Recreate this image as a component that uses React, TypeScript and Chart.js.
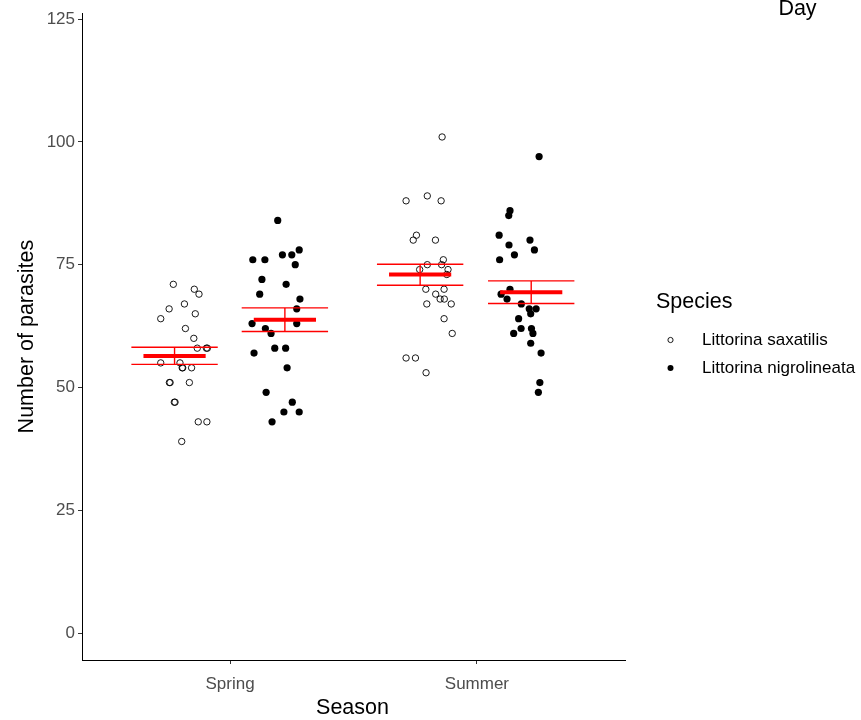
import React, { useEffect, useRef } from "react";
import { Chart, registerables } from "chart.js";

Chart.register(...registerables);

const seasons = ["Spring", "Summer"];
const species = ["Littorina saxatilis", "Littorina nigrolineata"];
const yTicks = [0, 25, 50, 75, 100, 125];

// Number of parasites per snail (jittered x positions)
const springSaxatilis = [71, 70, 69, 67, 66, 65, 64, 62, 60, 58, 58, 58, 55, 55, 54, 54, 54, 51, 51, 51, 47, 47, 43, 43, 39];
const springSaxatilisX = [0.770, 0.855, 0.874, 0.815, 0.753, 0.859, 0.719, 0.819, 0.853, 0.867, 0.904, 0.908, 0.719, 0.797, 0.806, 0.808, 0.844, 0.754, 0.757, 0.835, 0.774, 0.777, 0.871, 0.906, 0.804];

const springNigrolineata = [84, 78, 76, 76, 77, 77, 75, 72, 71, 69, 68, 66, 63, 63, 62, 61, 57, 58, 58, 54, 49, 47, 45, 45, 43];
const springNigrolineataX = [1.193, 1.280, 1.092, 1.141, 1.212, 1.250, 1.264, 1.129, 1.227, 1.120, 1.283, 1.270, 1.089, 1.270, 1.143, 1.166, 1.097, 1.181, 1.225, 1.231, 1.146, 1.252, 1.218, 1.280, 1.170];

const summerSaxatilis = [101, 88, 89, 88, 81, 80, 80, 76, 75, 75, 74, 74, 73, 70, 70, 69, 68, 68, 67, 67, 64, 61, 56, 56, 53];
const summerSaxatilisX = [1.859, 1.713, 1.799, 1.855, 1.755, 1.742, 1.832, 1.864, 1.799, 1.857, 1.768, 1.883, 1.878, 1.793, 1.867, 1.833, 1.851, 1.868, 1.797, 1.896, 1.867, 1.900, 1.713, 1.751, 1.794];

const summerNigrolineata = [97, 86, 85, 81, 80, 79, 78, 77, 76, 70, 69, 68, 67, 66, 66, 65, 64, 62, 62, 61, 61, 59, 57, 51, 49];
const summerNigrolineataX = [2.252, 2.134, 2.129, 2.090, 2.215, 2.130, 2.233, 2.152, 2.092, 2.134, 2.098, 2.122, 2.180, 2.212, 2.240, 2.218, 2.169, 2.179, 2.221, 2.149, 2.227, 2.218, 2.260, 2.255, 2.249];

// Summary per group: Spring sax, Spring nig, Summer sax, Summer nig
const groupCenters = [0.775, 1.222, 1.770, 2.220];
const groupMeans = [56.4, 63.8, 73.0, 69.4];
const groupUpper = [58.2, 66.2, 75.1, 71.7];
const groupLower = [54.7, 61.4, 70.8, 67.1];

const FONT = '"Liberation Sans", Arial, sans-serif';

function pts(xs: number[], ys: number[]) {
  return ys.map((y, i) => ({ x: xs[i], y }));
}

export default function App() {
  const ref = useRef<HTMLCanvasElement | null>(null);

  useEffect(() => {
    if (!ref.current) return;
    const capHalf = 0.175;
    const meanHalf = 0.126;
    const capData: any[] = [];
    const vertData: any[] = [];
    const meanData: any[] = [];
    groupCenters.forEach((c, i) => {
      capData.push({ x: c - capHalf, y: groupUpper[i] }, { x: c + capHalf, y: groupUpper[i] }, { x: c, y: null });
      capData.push({ x: c - capHalf, y: groupLower[i] }, { x: c + capHalf, y: groupLower[i] }, { x: c, y: null });
      vertData.push({ x: c, y: groupLower[i] }, { x: c, y: groupUpper[i] }, { x: c, y: null });
      meanData.push({ x: c - meanHalf, y: groupMeans[i] }, { x: c + meanHalf, y: groupMeans[i] }, { x: c, y: null });
    });

    const textPlugin = {
      id: "texts",
      afterDraw(chart: any) {
        const ctx = chart.ctx;
        const area = chart.chartArea;
        ctx.save();
        ctx.fillStyle = "#000";
        // axis titles
        ctx.font = `21.5px ${FONT}`;
        ctx.textAlign = "center";
        ctx.textBaseline = "alphabetic";
        ctx.fillText("Season", (area.left + area.right) / 2 - 1, 714);
        ctx.save();
        ctx.translate(33, (area.top + area.bottom) / 2);
        ctx.rotate(-Math.PI / 2);
        ctx.fillText("Number of parasites", 0, 0);
        ctx.restore();
        // Day legend title (cut off at top)
        ctx.fillText("Day", 797.5, 15);
        // Species legend
        ctx.textAlign = "left";
        ctx.fillText("Species", 656, 308);
        ctx.font = `17px ${FONT}`;
        ctx.textBaseline = "middle";
        ctx.fillText(species[0], 702, 340);
        ctx.fillText(species[1], 702, 368);
        ctx.beginPath();
        ctx.arc(670.5, 340, 2.6, 0, Math.PI * 2);
        ctx.lineWidth = 0.9;
        ctx.strokeStyle = "#000";
        ctx.stroke();
        ctx.beginPath();
        ctx.arc(670.5, 368, 3, 0, Math.PI * 2);
        ctx.fill();
        ctx.restore();
      },
    };

    const openStyle = {
      type: "scatter" as const,
      pointRadius: 3.2,
      pointBorderWidth: 0.9,
      pointBorderColor: "#000",
      pointBackgroundColor: "rgba(0,0,0,0)",
    };
    const filledStyle = {
      type: "scatter" as const,
      pointRadius: 3.6,
      pointBorderWidth: 0,
      pointBorderColor: "#000",
      pointBackgroundColor: "#000",
    };
    const lineStyle = {
      type: "scatter" as const,
      showLine: true,
      spanGaps: false,
      pointRadius: 0,
      borderColor: "#FF0000",
      borderCapStyle: "butt" as const,
    };

    const chart = new Chart(ref.current, {
      type: "scatter",
      data: {
        datasets: [
          { ...lineStyle, label: "mean", data: meanData, borderWidth: 4 },
          { ...lineStyle, label: "caps", data: capData, borderWidth: 1.4 },
          { ...lineStyle, label: "vert", data: vertData, borderWidth: 1.4 },
          { ...openStyle, label: `${seasons[0]} ${species[0]}`, data: pts(springSaxatilisX, springSaxatilis) },
          { ...filledStyle, label: `${seasons[0]} ${species[1]}`, data: pts(springNigrolineataX, springNigrolineata) },
          { ...openStyle, label: `${seasons[1]} ${species[0]}`, data: pts(summerSaxatilisX, summerSaxatilis) },
          { ...filledStyle, label: `${seasons[1]} ${species[1]}`, data: pts(summerNigrolineataX, summerNigrolineata) },
        ] as any,
      },
      options: {
        animation: false,
        responsive: false,
        events: [],
        layout: { padding: { left: 0, right: 236, top: 12, bottom: 0 } },
        plugins: { legend: { display: false }, tooltip: { enabled: false } },
        scales: {
          x: {
            type: "linear",
            min: 0.4,
            max: 2.6,
            afterFit: (s: any) => { s.height = 60; },
            afterBuildTicks: (s: any) => { s.ticks = [{ value: 1 }, { value: 2 }]; },
            grid: { drawOnChartArea: false, drawTicks: true, tickLength: 4, color: "#333333", lineWidth: 1 },
            border: { display: true, color: "#000", width: 1 },
            ticks: {
              color: "#4D4D4D",
              font: { family: FONT, size: 17 },
              padding: 10,
              maxRotation: 0,
              callback: (v: any) => seasons[Math.round(Number(v)) - 1] ?? "",
            },
          },
          y: {
            type: "linear",
            min: -5.49,
            max: 126.2,
            afterFit: (s: any) => { s.width = 82; },
            afterBuildTicks: (s: any) => { s.ticks = yTicks.map((v) => ({ value: v })); },
            grid: { drawOnChartArea: false, drawTicks: true, tickLength: 4, color: "#333333", lineWidth: 1 },
            border: { display: true, color: "#000", width: 1 },
            ticks: {
              color: "#4D4D4D",
              font: { family: FONT, size: 17 },
              padding: 3,
              callback: (v: any) => String(v),
            },
          },
        },
      },
      plugins: [textPlugin],
    });
    return () => chart.destroy();
  }, []);

  return (
    <div style={{ position: "fixed", left: 0, top: 0, width: 861, height: 720, background: "#fff" }}>
      <canvas ref={ref} width={861} height={720} style={{ width: 861, height: 720, display: "block" }} />
    </div>
  );
}
